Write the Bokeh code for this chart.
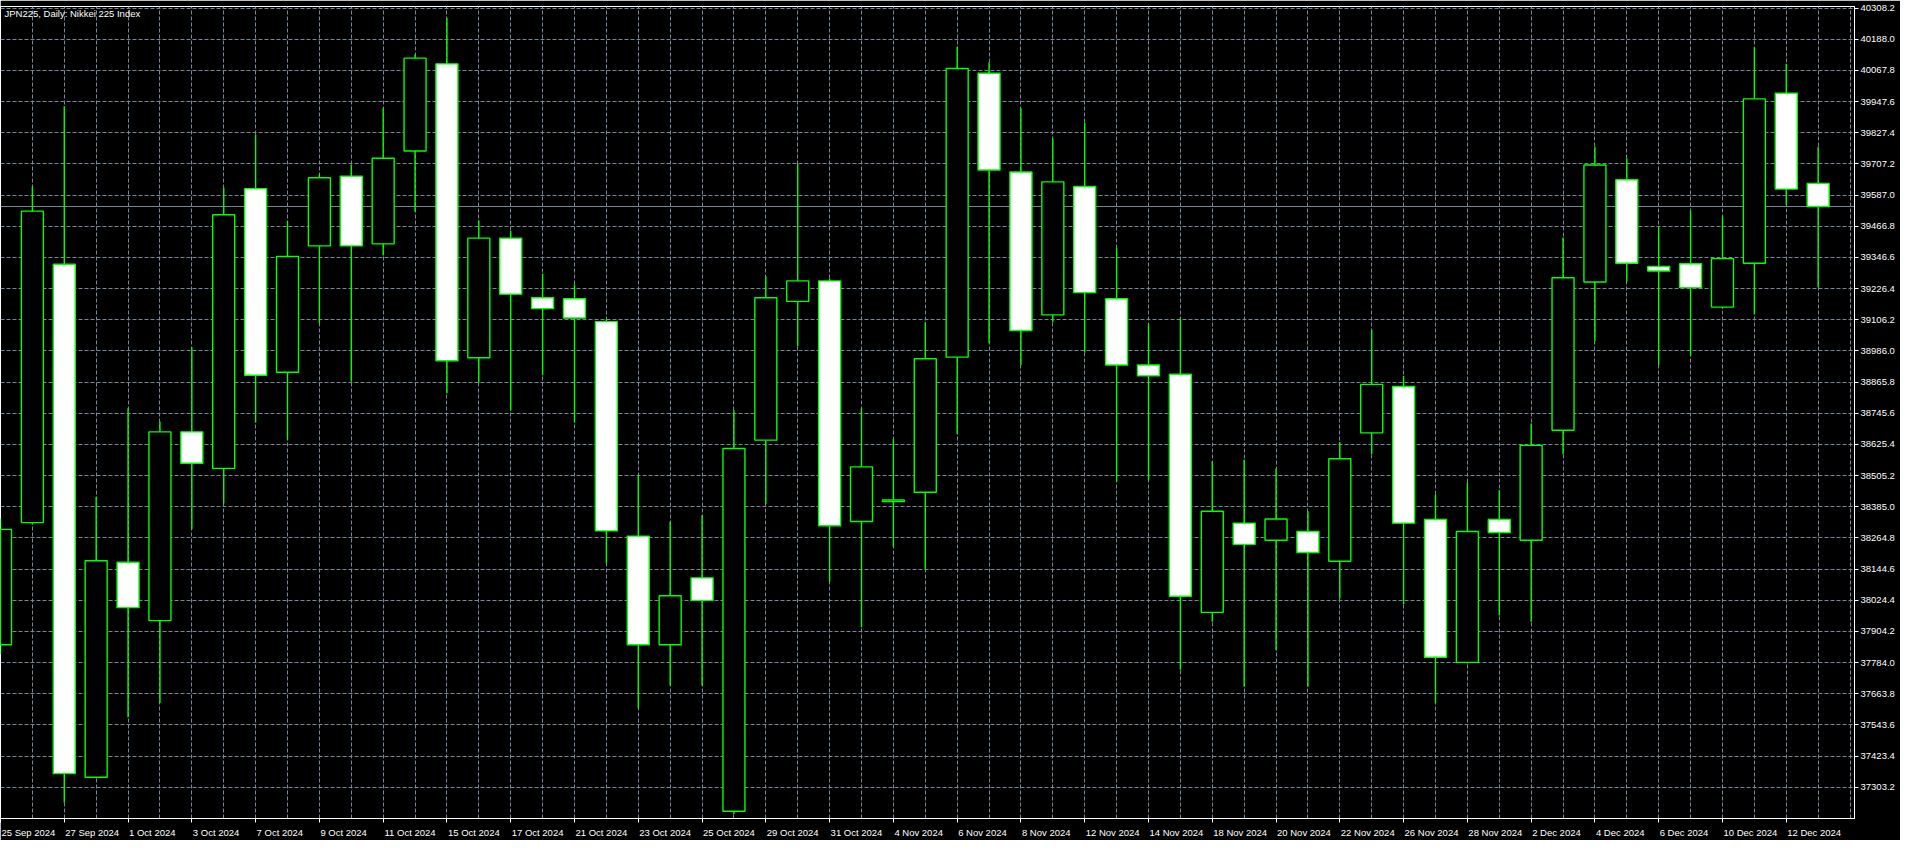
from bokeh.plotting import figure
from bokeh.models import (Range1d, LinearAxis, FixedTicker, Grid, Span, Label,
                          PrintfTickFormatter, ColumnDataSource)
from bokeh.embed import file_html
from bokeh.resources import INLINE

# ---------------- data ----------------
dates = [
    "25 Sep 2024", "26 Sep 2024", "27 Sep 2024", "30 Sep 2024",
    "1 Oct 2024", "2 Oct 2024", "3 Oct 2024", "4 Oct 2024",
    "7 Oct 2024", "8 Oct 2024", "9 Oct 2024", "10 Oct 2024", "11 Oct 2024",
    "14 Oct 2024", "15 Oct 2024", "16 Oct 2024", "17 Oct 2024", "18 Oct 2024",
    "21 Oct 2024", "22 Oct 2024", "23 Oct 2024", "24 Oct 2024", "25 Oct 2024",
    "28 Oct 2024", "29 Oct 2024", "30 Oct 2024", "31 Oct 2024", "1 Nov 2024",
    "4 Nov 2024", "5 Nov 2024", "6 Nov 2024", "7 Nov 2024", "8 Nov 2024",
    "11 Nov 2024", "12 Nov 2024", "13 Nov 2024", "14 Nov 2024", "15 Nov 2024",
    "18 Nov 2024", "19 Nov 2024", "20 Nov 2024", "21 Nov 2024", "22 Nov 2024",
    "25 Nov 2024", "26 Nov 2024", "27 Nov 2024", "28 Nov 2024", "29 Nov 2024",
    "2 Dec 2024", "3 Dec 2024", "4 Dec 2024", "5 Dec 2024", "6 Dec 2024",
    "9 Dec 2024", "10 Dec 2024", "11 Dec 2024", "12 Dec 2024", "13 Dec 2024",
]

opens = [
    37853, 38324, 39320, 37342, 38171, 37946, 38674, 38533, 39612, 38904,
    39391, 39660, 39399, 39757, 40093, 38960, 39421, 39191, 39187, 39099,
    38272, 37853, 38111, 37211, 38642, 39177, 39256, 38328, 38405, 38441,
    38962, 40057, 39676, 39125, 39620, 39187, 38932, 38896, 37978, 38322,
    38256, 38290, 38175, 38670, 38849, 38336, 37785, 38336, 38256, 38680,
    39252, 39646, 39312, 39322, 39155, 39324, 39980, 39632,
]
highs = [
    38340, 39620, 39930, 38423, 38765, 38714, 39000, 39616, 39821, 39487,
    39668, 39705, 39922, 40129, 40270, 39489, 39449, 39284, 39242, 39109,
    38509, 38328, 38352, 38757, 39274, 39707, 39265, 38765, 38646, 39097,
    40159, 40099, 39922, 39805, 39866, 39383, 39091, 39115, 38561, 38566,
    38533, 38368, 38634, 39067, 38890, 38433, 38479, 38449, 38706, 39423,
    39773, 39729, 39465, 39527, 39505, 40157, 40093, 39773,
]
lows = [
    37815, 38318, 37245, 37338, 37573, 37628, 38298, 38398, 38710, 38642,
    39093, 38867, 39354, 39523, 38823, 38863, 38755, 38892, 38710, 38167,
    37608, 37696, 37696, 37199, 38396, 39004, 38095, 37920, 38231, 38143,
    38666, 39016, 38932, 39097, 38980, 38481, 38487, 37757, 37942, 37692,
    37833, 37692, 38030, 38588, 38010, 37628, 37781, 37966, 37942, 38588,
    39024, 39254, 38932, 38966, 39150, 39127, 39548, 39232,
]
closes = [
    38298, 39525, 37356, 38177, 37996, 38674, 38553, 39511, 38892, 39350,
    39654, 39391, 39729, 40115, 38948, 39421, 39205, 39149, 39113, 38292,
    37853, 38042, 38024, 38610, 39191, 39256, 38312, 38539, 38411, 38956,
    40075, 39684, 39065, 39638, 39211, 38932, 38890, 38040, 38368, 38240,
    38338, 38209, 38570, 38857, 38322, 37805, 38290, 38286, 38622, 39268,
    39703, 39324, 39294, 39230, 39342, 39958, 39610, 39542.9,
]

y_ticks = [
    37303.2, 37423.4, 37543.6, 37663.8, 37784.0, 37904.2, 38024.4, 38144.6,
    38264.8, 38385.0, 38505.2, 38625.4, 38745.6, 38865.8, 38986.0, 39106.2,
    39226.4, 39346.6, 39466.8, 39587.0, 39707.2, 39827.4, 39947.6, 40067.8,
    40188.0, 40308.2,
]
last_price = 39542.9
title_text = "JPN225, Daily:  Nikkei 225 Index"

# ---------------- styling ----------------
FONT = "Liberation Sans"
FS = "9.5px"
GREEN = "#00ff00"
GRID = "#778899"

W, H = 1900, 840
RIGHT_BORDER = 46
X0, X1 = 0.0, 58.14
Y0, Y1 = 37183.0, 40314.2

x = list(range(len(dates)))
src = ColumnDataSource(dict(
    x=x, open=opens, high=highs, low=lows, close=closes,
    top=[max(o, c) for o, c in zip(opens, closes)],
    bottom=[min(o, c) for o, c in zip(opens, closes)],
    fill=["black" if c >= o else "white" for o, c in zip(opens, closes)],
))

p = figure(width=W, height=H, x_range=Range1d(X0, X1), y_range=Range1d(Y0, Y1),
           x_axis_type=None, y_axis_type=None, toolbar_location=None,
           output_backend="svg", background_fill_color="black",
           border_fill_color="black", min_border_left=0, min_border_top=6,
           min_border_right=RIGHT_BORDER, min_border_bottom=16)
p.outline_line_color = "white"
p.outline_line_width = 1

# grids
p.add_layout(Grid(dimension=0, ticker=FixedTicker(ticks=list(range(len(dates) + 1))),
                  grid_line_color=GRID, grid_line_dash="4 2", grid_line_width=1))
p.add_layout(Grid(dimension=1, ticker=FixedTicker(ticks=y_ticks),
                  grid_line_color=GRID, grid_line_dash="4 2", grid_line_width=1))

# last price line (under the candles)
p.add_layout(Span(location=last_price, dimension="width", line_color=GRID,
                  line_width=1, level="underlay"))

# candles
p.segment(x0="x", y0="low", x1="x", y1="high", source=src,
          line_color=GREEN, line_width=1.4)
p.vbar(x="x", width=0.69, top="top", bottom="bottom", source=src,
       fill_color="fill", line_color=GREEN, line_width=1.4)

# right price axis
yaxis = LinearAxis(ticker=FixedTicker(ticks=y_ticks),
                   formatter=PrintfTickFormatter(format="%.1f"),
                   axis_line_color="white", axis_line_width=1,
                   major_tick_line_color="white", major_tick_out=4, major_tick_in=0,
                   minor_tick_line_color=None,
                   major_label_text_color="white", major_label_text_font=FONT,
                   major_label_text_font_size=FS, major_label_standoff=2)
p.add_layout(yaxis, "right")

# bottom date axis: labels start at their tick (MT4 style)
char_w = {"0": 556, "1": 556, "2": 556, "3": 556, "4": 556, "5": 556, "6": 556,
          "7": 556, "8": 556, "9": 556, " ": 278, "S": 667, "e": 556, "p": 556,
          "O": 778, "c": 500, "t": 278, "N": 722, "o": 556, "v": 500, "D": 722}
ppu = (W - RIGHT_BORDER) / (X1 - X0)
label_idx = x[::2]
label_txt = dates[::2]
centers = []
overrides = {}
for i, t in zip(label_idx, label_txt):
    wpx = sum(char_w.get(ch, 556) for ch in t) * 9.5 / 1000.0
    cpos = i + (wpx / 2.0 + 1.0) / ppu
    centers.append(cpos)
    overrides[cpos] = t

xaxis = LinearAxis(ticker=FixedTicker(ticks=centers, minor_ticks=label_idx),
                   major_label_overrides=overrides,
                   axis_line_color="white", axis_line_width=1,
                   major_tick_line_color=None, major_tick_out=0, major_tick_in=0,
                   minor_tick_line_color="white", minor_tick_out=4, minor_tick_in=0,
                   major_label_text_color="white", major_label_text_font=FONT,
                   major_label_text_font_size=FS, major_label_standoff=4)
p.add_layout(xaxis, "below")

# title text top-left
p.add_layout(Label(x=X0, y=Y1, x_offset=4, y_offset=-1, text=title_text,
                   text_baseline="top", text_align="left", text_color="white",
                   text_font=FONT, text_font_size=FS))

# current price tag on the axis
p.add_layout(Label(x=X1, y=last_price, x_offset=3, text=f"{last_price:.1f}",
                   text_baseline="middle", text_align="left", text_color="black",
                   text_font=FONT, text_font_size=FS,
                   background_fill_color=GRID, padding=1))

open("out.html", "w").write(file_html(p, INLINE))
